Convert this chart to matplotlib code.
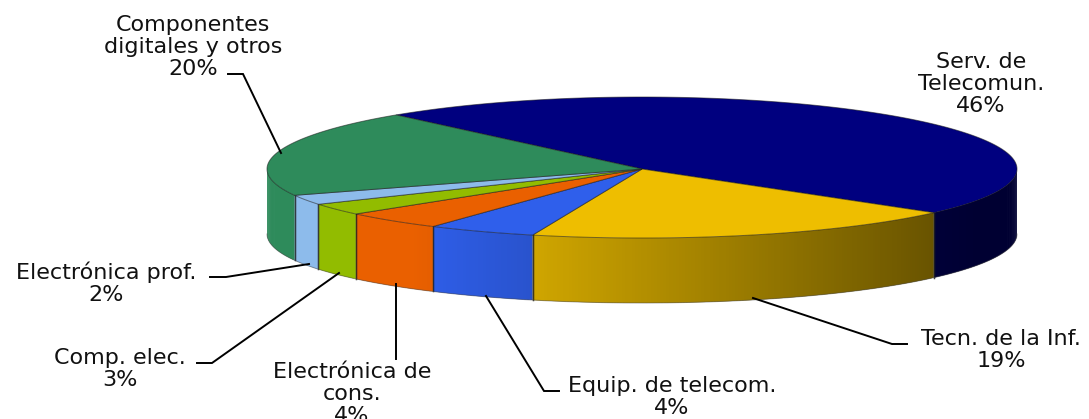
import numpy as np
import matplotlib

matplotlib.use("Agg")
import matplotlib.pyplot as plt
from matplotlib.colors import to_rgb
from matplotlib.patches import Polygon

plt.rcParams["font.family"] = ["DejaVu Sans"]

# Slices, clockwise from the back of the pie
names = [
    "Serv. de\nTelecomun.",
    "Tecn. de la Inf.",
    "Equip. de telecom.",
    "Electrónica de\ncons.",
    "Comp. elec.",
    "Electrónica prof.",
    "Componentes\ndigitales y otros",
]
percent_labels = [46, 19, 4, 4, 3, 2, 20]
# the printed percentages are rounded, these are the slice sizes as drawn
drawn_shares = [47.2, 18.9, 4.7, 4.4, 2.75, 2.3, 19.75]
colors = ["#00007F", "#EEBE00", "#2F5FEB", "#EA6000", "#92BC00", "#8DBBEB", "#2E8B5B"]

# Pie geometry, in image pixels
cx, cy = 642, 169
rx = 375
depth = 65
start_angle = 131

label_pos = [(981, 84), (1001, 350), (672, 397), (352, 394), (120, 369), (106, 283), (193, 47)]
leaders = [
    None,
    [(753, 298), (892, 344), (907, 344)],
    [(486, 296), (544, 391), (559, 391)],
    [(396, 284), (396, 359)],
    [(339, 273), (212, 363), (197, 363)],
    [(309, 264), (226, 277), (210, 277)],
    [(281, 153), (243, 74), (228, 74)],
]


def rim(t):
    ry = 70.5 + 1.5 * np.sin(t)
    return cx + rx * np.cos(t), cy - ry * np.sin(t)


def shade(x):
    # the front wall gets darker from left to right
    return np.clip(0.87 - (x - 533) * 0.43 / 401, 0.39, 1.0)


fig = plt.figure(figsize=(10.89, 4.19), dpi=100)
ax = fig.add_axes([0, 0, 1, 1])
ax.set_xlim(0, 1089)
ax.set_ylim(419, 0)
ax.axis("off")

spans = np.array(drawn_shares) / sum(drawn_shares) * 2 * np.pi
ends = np.radians(start_angle) - np.cumsum(spans)
starts = ends + spans

# outer wall, only the part facing the viewer
for i, color in enumerate(colors):
    a = min(starts[i], 0)
    b = max(ends[i], -np.pi)
    if a <= b:
        continue
    ts = np.linspace(a, b, max(int((a - b) * 120), 3))
    base = np.array(to_rgb(color))
    for j in range(len(ts) - 1):
        x0, y0 = rim(ts[j])
        x1, y1 = rim(ts[min(j + 2, len(ts) - 1)])
        m = shade((x0 + x1) / 2)
        ax.add_patch(
            Polygon(
                [(x0, y0), (x1, y1), (x1, y1 + depth), (x0, y0 + depth)],
                facecolor=base * m,
                linewidth=0,
                zorder=2,
            )
        )
    # dark seam at each end of the wall
    for t in (a, b):
        if -np.pi < t < 0:
            x, y = rim(t)
            ax.plot([x, x], [y, y + depth], color="#222222", lw=1.0, alpha=0.6, zorder=3)

# top face
for i, color in enumerate(colors):
    ts = np.linspace(starts[i], ends[i], 300)
    xs, ys = rim(ts)
    pts = np.column_stack([np.r_[cx, xs], np.r_[cy, ys]])
    ax.add_patch(
        Polygon(pts, facecolor=color, edgecolor=(0.1, 0.1, 0.1, 0.55), linewidth=0.7, zorder=4)
    )

# soft outline along the lower edge of the wall
ts = np.linspace(0, -np.pi, 400)
xs, ys = rim(ts)
ax.plot(xs, ys + depth, color="#444444", lw=0.7, alpha=0.5, zorder=3)

for name, share, pos, leader in zip(names, percent_labels, label_pos, leaders):
    ax.text(
        pos[0], pos[1], f"{name}\n{share}%",
        ha="center", va="center", fontsize=16, color="#111111",
        linespacing=1.12, zorder=6,
    )
    if leader is not None:
        lx, ly = zip(*leader)
        ax.plot(lx, ly, color="black", lw=1.4, zorder=5, solid_joinstyle="miter")

fig.savefig("out.png", dpi=100)
